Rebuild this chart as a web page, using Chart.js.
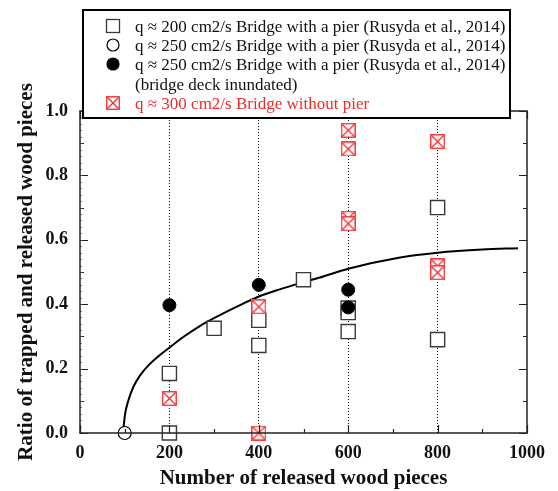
<!DOCTYPE html>
<html>
<head>
<meta charset="utf-8">
<script src="https://cdn.jsdelivr.net/npm/chart.js@4"></script>
<style>
  body { margin: 0; background: #fff; }
</style>
</head>
<body>
<canvas id="woodChart" width="558" height="491"></canvas>
<script>
// tick labels
const xTickLabels = [0, 200, 400, 600, 800, 1000];
const yTickLabels = ["0.0", "0.2", "0.4", "0.6", "0.8", "1.0"];
const guideX = [200, 400, 600, 800];

// q ~ 200 cm2/s, bridge with a pier
const pier200X = [200, 200, 300, 400, 400, 500, 600, 600, 600, 800, 800];
const pier200Y = [0.0, 0.185, 0.325, 0.35, 0.272, 0.476, 0.388, 0.374, 0.315, 0.70, 0.29];

// q ~ 250 cm2/s, bridge with a pier
const pier250X = [100];
const pier250Y = [0.0];

// q ~ 250 cm2/s, deck inundated
const inundX = [200, 400, 600, 600];
const inundY = [0.397, 0.46, 0.445, 0.39];

// q ~ 300 cm2/s, no pier
const noPierX = [200, 400, 400, 600, 600, 600, 600, 800, 800, 800];
const noPierY = [0.107, 0.0, 0.392, 0.94, 0.882, 0.667, 0.65, 0.905, 0.519, 0.498];

// fitted curve
const fitX = [96, 98, 101, 108, 119, 134, 153, 175, 200, 231, 268, 313, 358, 400, 447, 492, 537, 600, 716, 800, 900, 980];
const fitY = [0.0, 0.025, 0.06, 0.1, 0.142, 0.178, 0.21, 0.238, 0.265, 0.298, 0.332, 0.366, 0.397, 0.424, 0.446, 0.465, 0.483, 0.51, 0.545, 0.56, 0.57, 0.574];

const legendLabels = [
  ["q \u2248 200 cm2/s Bridge with a pier (Rusyda et al., 2014)"],
  ["q \u2248 250 cm2/s Bridge with a pier (Rusyda et al., 2014)"],
  ["q \u2248 250 cm2/s Bridge with a pier (Rusyda et al., 2014)", "(bridge deck inundated)"],
  ["q \u2248 300 cm2/s Bridge without pier"],
];

const redColor = "#f42a2a";
const squareColor = "#3a3a3a";
const serif = "'Liberation Serif', 'DejaVu Serif', serif";

function pts(xs, ys) {
  return xs.map((x, i) => ({ x: x, y: ys[i] }));
}

function crossBox(size, color) {
  const c = document.createElement("canvas");
  c.width = size;
  c.height = size;
  const g = c.getContext("2d");
  g.fillStyle = "#fff";
  g.fillRect(0, 0, size, size);
  g.strokeStyle = color;
  g.lineWidth = 1.3;
  g.strokeRect(0.75, 0.75, size - 1.5, size - 1.5);
  g.beginPath();
  g.moveTo(1.5, 1.5);
  g.lineTo(size - 1.5, size - 1.5);
  g.moveTo(size - 1.5, 1.5);
  g.lineTo(1.5, size - 1.5);
  g.stroke();
  return c;
}
const redBox = crossBox(15, redColor);
const redBoxSmall = crossBox(14, redColor);

// inward ticks + frame
const framePlugin = {
  id: "frame",
  afterDatasetsDraw(chart) {
    const { ctx, chartArea: a, scales } = chart;
    ctx.save();
    ctx.strokeStyle = "#222";
    ctx.lineWidth = 1.2;
    ctx.beginPath();
    for (let v = 0; v <= 1000; v += 100) {
      const px = Math.round(scales.x.getPixelForValue(v)) + 0.5;
      const len = v % 200 === 0 ? 8 : 4;
      ctx.moveTo(px, a.bottom);
      ctx.lineTo(px, a.bottom - len);
      ctx.moveTo(px, a.top);
      ctx.lineTo(px, a.top + len);
    }
    for (let i = 0; i <= 10; i++) {
      const py = Math.round(scales.y.getPixelForValue(i / 10)) + 0.5;
      const len = i % 2 === 0 ? 8 : 4;
      ctx.moveTo(a.left, py);
      ctx.lineTo(a.left + len, py);
      ctx.moveTo(a.right, py);
      ctx.lineTo(a.right - len, py);
    }
    ctx.stroke();
    ctx.lineWidth = 0.8;
    ctx.strokeStyle = "#666";
    ctx.beginPath();
    for (let i = 0; i <= 50; i++) {
      const py = Math.round(scales.y.getPixelForValue(i / 50)) + 0.5;
      ctx.moveTo(a.left, py);
      ctx.lineTo(a.left + 2, py);
    }
    ctx.stroke();
    ctx.lineWidth = 1.5;
    ctx.strokeStyle = "#222";
    ctx.strokeRect(a.left, a.top, a.right - a.left, a.bottom - a.top);
    ctx.restore();
  },
  afterDraw(chart) {
    const ctx = chart.ctx;
    const box = { x: 83, y: 10, w: 427, h: 108 };
    ctx.save();
    ctx.fillStyle = "#fff";
    ctx.fillRect(box.x, box.y, box.w, box.h);
    ctx.lineWidth = 2;
    ctx.strokeStyle = "#000";
    ctx.strokeRect(box.x, box.y, box.w, box.h);

    ctx.font = "17px " + serif;
    ctx.textBaseline = "middle";
    const mx = 113;
    const tx = 135;
    let y = 26;
    legendLabels.forEach((lines, i) => {
      if (i === 0) {
        ctx.fillStyle = "#fff";
        ctx.strokeStyle = squareColor;
        ctx.lineWidth = 1.3;
        ctx.fillRect(106.5, y - 6.5, 13, 13);
        ctx.strokeRect(106.5, y - 6.5, 13, 13);
      } else if (i === 1 || i === 2) {
        ctx.beginPath();
        ctx.arc(mx, y, 6, 0, Math.PI * 2);
        ctx.fillStyle = i === 1 ? "#fff" : "#000";
        ctx.fill();
        ctx.strokeStyle = "#000";
        ctx.lineWidth = 1.2;
        ctx.stroke();
      } else {
        ctx.drawImage(redBoxSmall, mx - 7, y - 7);
      }
      ctx.fillStyle = i === 3 ? redColor : "#111";
      lines.forEach((t, k) => {
        ctx.fillText(t, tx, y + 2 + k * 20);
      });
      y += 19 + (lines.length - 1) * 20;
    });
    ctx.restore();
  },
};

const chart = new Chart(document.getElementById("woodChart"), {
  type: "scatter",
  data: {
    datasets: [
      {
        label: "fit",
        data: pts(fitX, fitY),
        showLine: true,
        borderColor: "#000",
        borderWidth: 2,
        pointRadius: 0,
        cubicInterpolationMode: "monotone",
        order: 5,
      },
      {
        label: "q 200 with pier",
        data: pts(pier200X, pier200Y),
        pointStyle: "rect",
        pointRadius: 10,
        backgroundColor: "#fff",
        borderColor: squareColor,
        borderWidth: 1.4,
        order: 4,
      },
      {
        label: "q 300 without pier",
        data: pts(noPierX, noPierY),
        pointStyle: redBox,
        order: 3,
      },
      {
        label: "q 250 with pier",
        data: pts(pier250X, pier250Y),
        pointStyle: "circle",
        pointRadius: 6.5,
        backgroundColor: "#fff",
        borderColor: "#000",
        borderWidth: 1.2,
        order: 2,
      },
      {
        label: "q 250 inundated",
        data: pts(inundX, inundY),
        pointStyle: "circle",
        pointRadius: 6.5,
        backgroundColor: "#000",
        borderColor: "#000",
        borderWidth: 1,
        order: 1,
      },
    ],
  },
  options: {
    responsive: false,
    animation: false,
    clip: false,
    layout: { padding: { top: 111, right: 31, left: 0, bottom: 0 } },
    plugins: {
      legend: { display: false },
      tooltip: { enabled: false },
    },
    scales: {
      x: {
        type: "linear",
        min: 0,
        max: 1000,
        afterFit(scale) {
          scale.height = 58;
        },
        ticks: {
          stepSize: 100,
          autoSkip: false,
          maxRotation: 0,
          padding: 10,
          color: "#111",
          font: { family: serif, size: 18, weight: "bold" },
          callback: (v) => (xTickLabels.includes(v) ? String(v) : ""),
        },
        grid: {
          drawTicks: false,
          lineWidth: 1,
          color: (c) => (c.tick && guideX.includes(c.tick.value) ? "#000" : "transparent"),
          borderDash: [1, 2],
        },
        border: { display: false, dash: [1, 2] },
        title: {
          display: true,
          text: "Number of released wood pieces",
          color: "#111",
          font: { family: serif, size: 21, weight: "bold" },
          padding: { top: 0, bottom: 0 },
        },
      },
      y: {
        type: "linear",
        min: 0,
        max: 1,
        afterFit(scale) {
          scale.width = 80;
        },
        ticks: {
          stepSize: 0.1,
          autoSkip: false,
          padding: 12,
          color: "#111",
          font: { family: serif, size: 18, weight: "bold" },
          callback: (v) => {
            const s = v.toFixed(1);
            return yTickLabels.includes(s) && Math.round(v * 10) % 2 === 0 ? s : "";
          },
        },
        grid: { display: false, drawTicks: false },
        border: { display: false },
        title: {
          display: true,
          text: "Ratio of trapped and released wood pieces",
          color: "#111",
          font: { family: serif, size: 21, weight: "bold" },
          padding: { top: 14, bottom: 0 },
        },
      },
    },
  },
  plugins: [framePlugin],
});
</script>
</body>
</html>
